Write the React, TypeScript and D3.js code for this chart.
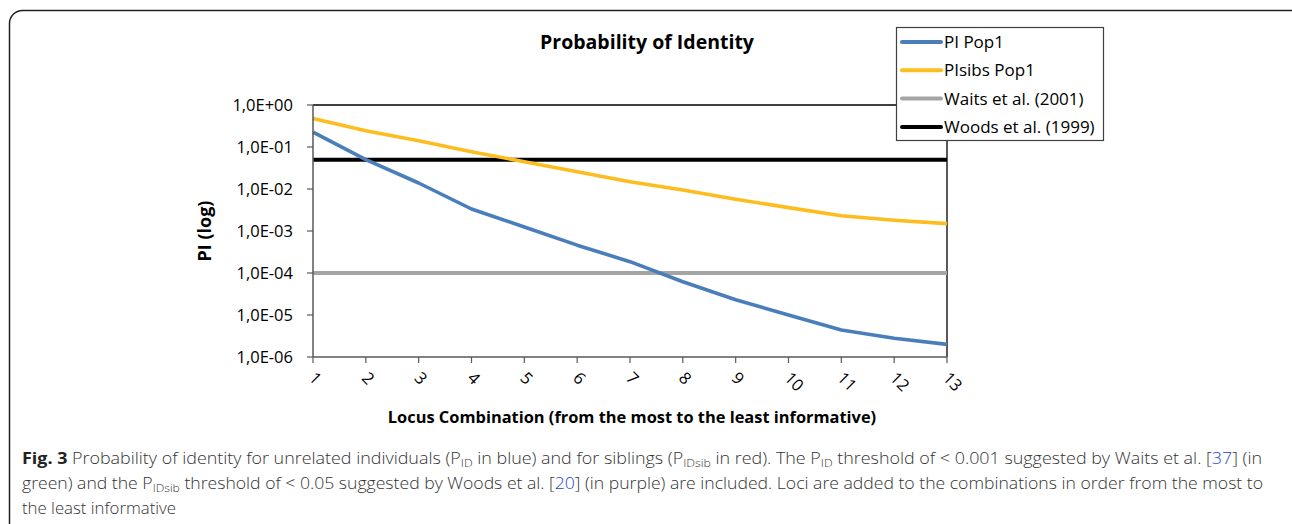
import React from "react";
import * as d3 from "d3";

const loci = [1, 2, 3, 4, 5, 6, 7, 8, 9, 10, 11, 12, 13];
const piPop1 = [0.227, 0.05, 0.0139, 0.00334, 0.00125, 0.00046, 0.000186, 0.000062, 0.000023, 0.00001, 0.0000044, 0.0000028, 0.000002];
const piSibsPop1 = [0.48, 0.245, 0.141, 0.0773, 0.0446, 0.0258, 0.0149, 0.0095, 0.0057, 0.0036, 0.0023, 0.0018, 0.0015];
const waits = loci.map(() => 0.0001);
const woods = loci.map(() => 0.05);
const yTicks = [1, 0.1, 0.01, 0.001, 0.0001, 0.00001, 0.000001];
const yTickLabels = ["1,0E+00", "1,0E-01", "1,0E-02", "1,0E-03", "1,0E-04", "1,0E-05", "1,0E-06"];
const seriesNames = ["PI Pop1", "PIsibs Pop1", "Waits et al. (2001)", "Woods et al. (1999)"];
const seriesColors = ["#4a7ebb", "#fdbd1f", "#a5a5a5", "#000000"];

const FONT = "'Open Sans', 'Noto Sans', sans-serif";

export default function App() {
  const x = d3.scaleLinear().domain([1, 13]).range([313, 947]);
  const y = d3.scaleLog().domain([1e-6, 1]).range([357, 105]);
  const line = d3
    .line<number>()
    .x((_, i) => x(loci[i]))
    .y((d) => y(d));
  const allSeries = [piPop1, piSibsPop1, waits, woods];
  const drawOrder = [2, 3, 1, 0];

  return (
    <svg
      width={1292}
      height={524}
      style={{ position: "absolute", left: 0, top: 0, background: "#fff" }}
      fontFamily={FONT}
    >
      <rect x={9.5} y={10.5} width={1300} height={600} rx={13} fill="#fff" stroke="#222" strokeWidth={1.5} />

      {/* Title */}
      <text x={647} y={49} textAnchor="middle" fontSize={19.5} fontWeight="bold" fill="#000">
        Probability of Identity
      </text>

      {/* plot frame */}
      <line x1={313} x2={947} y1={105} y2={105} stroke="#000" strokeWidth={1.3} />
      <line x1={947} x2={947} y1={105} y2={357} stroke="#000" strokeWidth={1.3} />

      {/* series */}
      {drawOrder.map((si) => (
        <path
          key={si}
          d={line(allSeries[si]) || ""}
          fill="none"
          stroke={seriesColors[si]}
          strokeWidth={si >= 2 ? 4 : 3.6}
          strokeLinejoin="round"
        />
      ))}

      {/* y axis */}
      <line x1={313} x2={313} y1={105} y2={357} stroke="#595959" strokeWidth={1.5} />
      {yTicks.map((t, i) => (
        <g key={t}>
          <line x1={307} x2={313} y1={y(t)} y2={y(t)} stroke="#595959" strokeWidth={1.2} />
          <text x={293} y={y(t)} dy="0.35em" textAnchor="end" fontSize={16.5} fill="#000">
            {yTickLabels[i]}
          </text>
        </g>
      ))}
      <text
        transform={`translate(211,231) rotate(-90)`}
        textAnchor="middle"
        fontSize={18}
        fontWeight="bold"
        fill="#000"
      >
        PI (log)
      </text>

      {/* x axis */}
      <line x1={313} x2={947} y1={357} y2={357} stroke="#595959" strokeWidth={1.5} />
      {loci.map((l) => (
        <g key={l}>
          <line x1={x(l)} x2={x(l)} y1={357} y2={363} stroke="#595959" strokeWidth={1.2} />
          <text
            transform={`translate(${x(l) - 1},${375}) rotate(45)`}
            textAnchor="start"
            dy="0.35em"
            fontSize={16.5}
            fill="#000"
          >
            {l}
          </text>
        </g>
      ))}
      <text x={632} y={423} textAnchor="middle" fontSize={16.4} fontWeight="bold" fill="#000">
        Locus Combination (from the most to the least informative)
      </text>

      {/* legend */}
      <rect x={896.5} y={27.5} width={207} height={113} fill="#fff" stroke="#404040" strokeWidth={1.2} />
      {seriesNames.map((n, i) => (
        <g key={n}>
          <line
            x1={902}
            x2={941}
            y1={42 + i * 28.3}
            y2={42 + i * 28.3}
            stroke={seriesColors[i]}
            strokeWidth={4}
            strokeLinecap="round"
          />
          <text x={944} y={42 + i * 28.3} dy="0.35em" fontSize={17} fill="#000">
            {n}
          </text>
        </g>
      ))}

      {/* caption */}
      <g fontSize={16} fill="#333" fontWeight={300}>
        <text x={22} y={464} textLength={1240} lengthAdjust="spacingAndGlyphs">
          <tspan fontWeight="bold" fill="#222">Fig. 3</tspan>
          <tspan> Probability of identity for unrelated individuals (P</tspan>
          <tspan fontSize={11} dy={3}>ID</tspan>
          <tspan dy={-3}> in blue) and for siblings (P</tspan>
          <tspan fontSize={11} dy={3}>IDsib</tspan>
          <tspan dy={-3}> in red). The P</tspan>
          <tspan fontSize={11} dy={3}>ID</tspan>
          <tspan dy={-3}> threshold of &lt; 0.001 suggested by Waits et al. [</tspan>
          <tspan fill="#1a3fd6">37</tspan>
          <tspan>] (in</tspan>
        </text>
        <text x={22} y={489} textLength={1241} lengthAdjust="spacingAndGlyphs">
          <tspan>green) and the P</tspan>
          <tspan fontSize={11} dy={3}>IDsib</tspan>
          <tspan dy={-3}> threshold of &lt; 0.05 suggested by Woods et al. [</tspan>
          <tspan fill="#1a3fd6">20</tspan>
          <tspan>] (in purple) are included. Loci are added to the combinations in order from the most to</tspan>
        </text>
        <text x={22} y={514} textLength={154} lengthAdjust="spacingAndGlyphs">
          the least informative
        </text>
      </g>
    </svg>
  );
}
